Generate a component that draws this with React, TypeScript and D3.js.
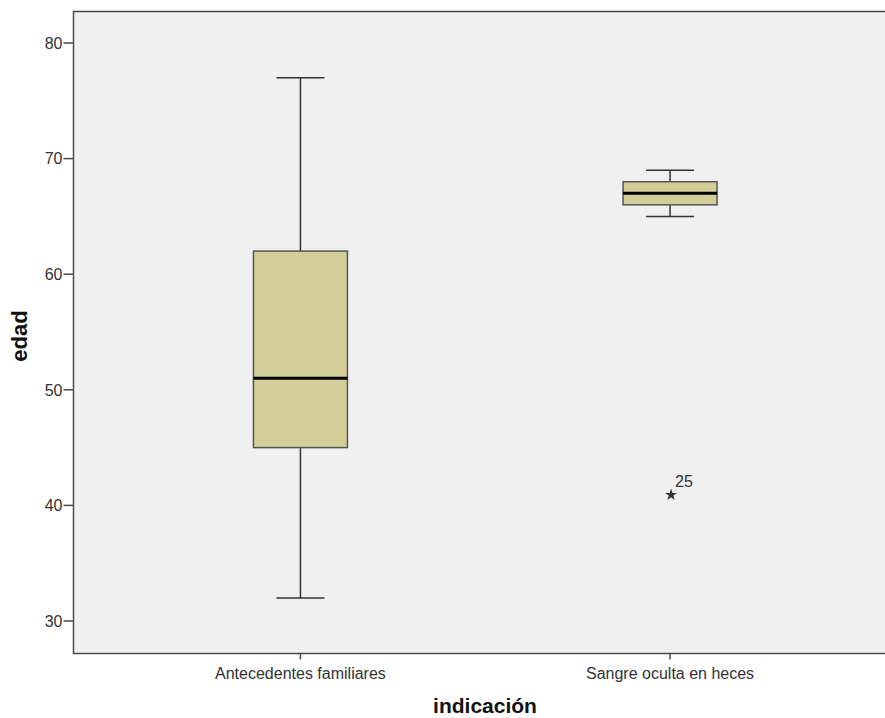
import React from 'react';
import * as d3 from 'd3';

const categories = ['Antecedentes familiares', 'Sangre oculta en heces'];
const whiskerLow = [32, 65];
const q1 = [45, 66];
const medians = [51, 67];
const q3 = [62, 68];
const whiskerHigh = [77, 69];
const outliers = [{ cat: 'Sangre oculta en heces', value: 41, label: '25' }];
const yTicks = [30, 40, 50, 60, 70, 80];

const App = () => {
  const width = 885;
  const height = 718;
  const left = 73.5;
  const top = 11.5;
  const right = 897;
  const bottom = 653.5;

  const y = d3.scaleLinear().domain([30, 80]).range([621, 43]);
  const x = d3.scalePoint<string>().domain(categories).range([left, right]).padding(0.614);

  const boxW = 94;
  const capW = 48;
  const frame = '#4a4a4a';
  const font = 'Arial, "Liberation Sans", sans-serif';

  const star = d3.symbol().type(d3.symbolStar).size(45)();

  return (
    <div style={{ position: 'absolute', left: 0, top: 0 }}>
      <svg width={width} height={height} style={{ display: 'block', background: '#fff' }}>
        <rect x={left} y={top} width={right - left} height={bottom - top} fill="#f0f0f0" stroke={frame} strokeWidth={1.5} />

        {/* y axis ticks */}
        {yTicks.map((t) => (
          <g key={t}>
            <line x1={left - 10} x2={left} y1={y(t)} y2={y(t)} stroke={frame} strokeWidth={1.5} />
            <text x={left - 11} y={y(t)} dy="0.36em" textAnchor="end" fontFamily={font} fontSize={16} fill="#333">
              {t}
            </text>
          </g>
        ))}

        {/* x axis ticks */}
        {categories.map((c) => (
          <g key={c}>
            <line x1={x(c)} x2={x(c)} y1={bottom} y2={bottom + 6} stroke={frame} strokeWidth={1.5} />
            <text x={x(c)} y={679} textAnchor="middle" fontFamily={font} fontSize={16} fill="#333">
              {c}
            </text>
          </g>
        ))}

        {/* boxes */}
        {categories.map((c, i) => {
          const cx = x(c) as number;
          return (
            <g key={c} stroke="#333" strokeWidth={1.5}>
              <line x1={cx} x2={cx} y1={y(whiskerHigh[i])} y2={y(q3[i])} />
              <line x1={cx} x2={cx} y1={y(q1[i])} y2={y(whiskerLow[i])} />
              <line x1={cx - capW / 2} x2={cx + capW / 2} y1={y(whiskerHigh[i])} y2={y(whiskerHigh[i])} />
              <line x1={cx - capW / 2} x2={cx + capW / 2} y1={y(whiskerLow[i])} y2={y(whiskerLow[i])} />
              <rect x={cx - boxW / 2} y={y(q3[i])} width={boxW} height={y(q1[i]) - y(q3[i])} fill="#d3ce97" stroke="#555" />
              <line x1={cx - boxW / 2} x2={cx + boxW / 2} y1={y(medians[i])} y2={y(medians[i])} stroke="#000" strokeWidth={3} />
            </g>
          );
        })}

        {/* outliers */}
        {outliers.map((o) => (
          <g key={o.label}>
            <path d={star || ''} transform={`translate(${(x(o.cat) as number) + 1},${y(o.value) + 1})`} fill="#333" />
            <text x={(x(o.cat) as number) + 5} y={y(o.value) - 7} fontFamily={font} fontSize={16} fill="#333">
              {o.label}
            </text>
          </g>
        ))}

        <text
          transform={`translate(27,336) rotate(-90)`}
          textAnchor="middle"
          fontFamily={font}
          fontSize={22}
          fontWeight="bold"
          fill="#111"
        >
          edad
        </text>
        <text x={485} y={713} textAnchor="middle" fontFamily={font} fontSize={21} fontWeight="bold" fill="#111">
          indicación
        </text>
      </svg>
    </div>
  );
};

export default App;
